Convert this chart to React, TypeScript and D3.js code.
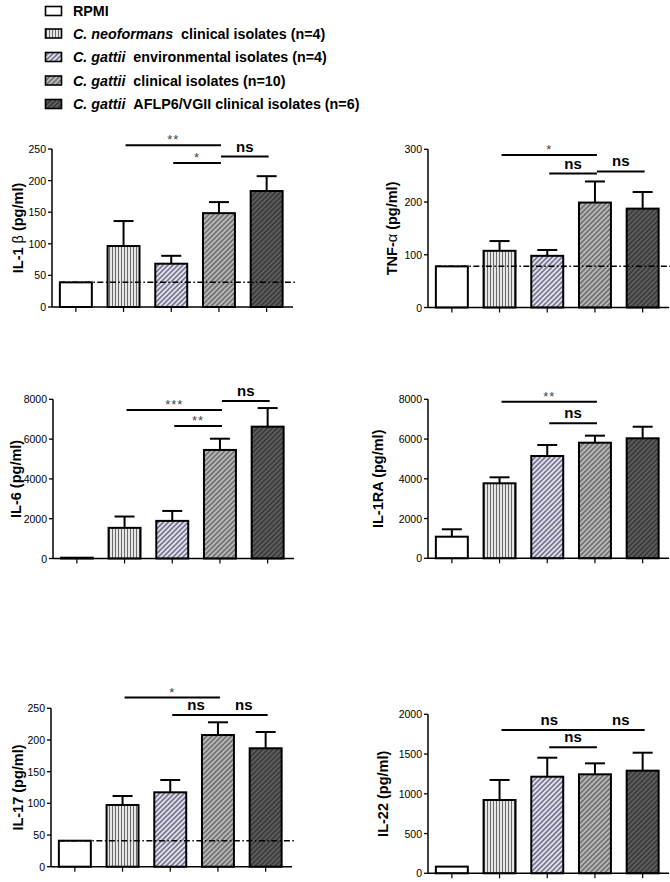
import React from "react";
import * as d3 from "d3";

// ---------- data ----------
const groups = ["RPMI", "Cn clinical", "Cg environmental", "Cg clinical", "Cg AFLP6/VGII"];
const legendItalic = ["", "C. neoformans", "C. gattii", "C. gattii", "C. gattii"];
const legendText = [
  "RPMI",
  "clinical isolates (n=4)",
  "environmental isolates (n=4)",
  "clinical isolates (n=10)",
  "AFLP6/VGII clinical isolates (n=6)",
];

const il1bMean = [39, 96.5, 68.5, 148.5, 183.5];
const il1bErr = [0, 39.5, 12.5, 17.5, 23.5];
const il1bTicks = [0, 50, 100, 150, 200, 250];
const il1bSig = [
  { a: 1, b: 3, y: 256, t: "**" },
  { a: 2, b: 3, y: 228, t: "*" },
  { a: 3, b: 4, y: 238, t: "ns" },
];

const tnfMean = [78, 107.5, 98, 199, 187.5];
const tnfErr = [0, 18.5, 11, 40, 31.5];
const tnfTicks = [0, 100, 200, 300];
const tnfSig = [
  { a: 1, b: 3, y: 289, t: "*" },
  { a: 2, b: 3, y: 254, t: "ns" },
  { a: 3, b: 4, y: 258, t: "ns" },
];

const il6Mean = [40, 1540, 1890, 5455, 6625];
const il6Err = [0, 570, 500, 565, 935];
const il6Ticks = [0, 2000, 4000, 6000, 8000];
const il6Sig = [
  { a: 1, b: 3, y: 7462, t: "***" },
  { a: 2, b: 3, y: 6658, t: "**" },
  { a: 3, b: 4, y: 7915, t: "ns" },
];

const il1raMean = [1087, 3774, 5147, 5816, 6038];
const il1raErr = [373, 301, 553, 354, 582];
const il1raTicks = [0, 2000, 4000, 6000, 8000];
const il1raSig = [
  { a: 1, b: 3, y: 7879, t: "**" },
  { a: 2, b: 3, y: 6794, t: "ns" },
];

const il17Mean = [41, 97.4, 117.4, 207.8, 186.9];
const il17Err = [0, 14.2, 19.4, 20.1, 25.7];
const il17Ticks = [0, 50, 100, 150, 200, 250];
const il17Sig = [
  { a: 1, b: 3, y: 267, t: "*" },
  { a: 2, b: 3, y: 239.4, t: "ns" },
  { a: 3, b: 4, y: 239.4, t: "ns" },
];

const il22Mean = [84, 922, 1215, 1245, 1291];
const il22Err = [0, 252, 239, 138, 226];
const il22Ticks = [0, 500, 1000, 1500, 2000];
const il22Sig = [
  { a: 1, b: 3, y: 1802, t: "ns" },
  { a: 2, b: 3, y: 1585, t: "ns" },
  { a: 3, b: 4, y: 1802, t: "ns" },
];

// label segments: [text, isGreek]
const il1bLabel: [string, boolean][] = [["IL-1 ", false], ["β", true], [" (pg/ml)", false]];
const tnfLabel: [string, boolean][] = [["TNF-", false], ["α", true], [" (pg/ml)", false]];
const il6Label: [string, boolean][] = [["IL-6 (pg/ml)", false]];
const il1raLabel: [string, boolean][] = [["IL-1RA (pg/ml)", false]];
const il17Label: [string, boolean][] = [["IL-17 (pg/ml)", false]];
const il22Label: [string, boolean][] = [["IL-22 (pg/ml)", false]];

// ---------- layout ----------
const FONT = "'Liberation Sans', Arial, Helvetica, sans-serif";
const patternIds = ["none", "p-vert", "p-env", "p-clin", "p-aflp"];

const panels = [
  { mean: il1bMean, err: il1bErr, ticks: il1bTicks, sig: il1bSig, label: il1bLabel, x0: 52, y0: 307, top: 149, labelX: 17.5, dashed: true },
  { mean: tnfMean, err: tnfErr, ticks: tnfTicks, sig: tnfSig, label: tnfLabel, x0: 428, y0: 307.5, top: 149.3, labelX: 391.5, dashed: true },
  { mean: il6Mean, err: il6Err, ticks: il6Ticks, sig: il6Sig, label: il6Label, x0: 53, y0: 558.5, top: 399.3, labelX: 15.5, dashed: false },
  { mean: il1raMean, err: il1raErr, ticks: il1raTicks, sig: il1raSig, label: il1raLabel, x0: 428, y0: 558.3, top: 399.3, labelX: 377.5, dashed: false },
  { mean: il17Mean, err: il17Err, ticks: il17Ticks, sig: il17Sig, label: il17Label, x0: 51, y0: 866.7, top: 708.3, labelX: 18, dashed: true },
  { mean: il22Mean, err: il22Err, ticks: il22Ticks, sig: il22Sig, label: il22Label, x0: 428, y0: 873.3, top: 714.3, labelX: 382.5, dashed: false },
];

function fillFor(i: number) {
  return i === 0 ? "#ffffff" : `url(#${patternIds[i]})`;
}

function Panel({ p }: { p: (typeof panels)[number] }) {
  const x = d3
    .scaleBand<string>()
    .domain(groups)
    .range([p.x0, p.x0 + 238.5])
    .paddingInner(0.33)
    .paddingOuter(0.165);
  const yMax = p.ticks[p.ticks.length - 1];
  const y = d3.scaleLinear().domain([0, yMax]).range([p.y0, p.top]);
  const bw = x.bandwidth();
  const cx = (i: number) => (x(groups[i]) as number) + bw / 2;
  const axisRight = p.x0 + 241;
  const midY = (p.y0 + p.top) / 2;

  return (
    <g>
      {groups.map((g, i) => (
        <g key={g}>
          {p.err[i] > 0 && (
            <g stroke="#000" strokeWidth={2}>
              <line x1={cx(i)} x2={cx(i)} y1={y(p.mean[i])} y2={y(p.mean[i] + p.err[i])} />
              <line x1={cx(i) - 10} x2={cx(i) + 10} y1={y(p.mean[i] + p.err[i])} y2={y(p.mean[i] + p.err[i])} />
            </g>
          )}
          <rect
            x={x(g)}
            y={y(p.mean[i])}
            width={bw}
            height={y(0) - y(p.mean[i])}
            fill={fillFor(i)}
            stroke="#000"
            strokeWidth={2}
          />
        </g>
      ))}
      {p.dashed && (
        <line
          x1={x(groups[0])}
          x2={axisRight + 2}
          y1={y(p.mean[0])}
          y2={y(p.mean[0])}
          stroke="#000"
          strokeWidth={1.5}
          strokeDasharray="6,2.5,1.5,2.5"
        />
      )}
      <line x1={p.x0} x2={p.x0} y1={p.y0} y2={p.top} stroke="#000" strokeWidth={1.5} />
      {p.ticks.map((t) => (
        <g key={t}>
          <line x1={p.x0 - 4} x2={p.x0} y1={y(t)} y2={y(t)} stroke="#000" strokeWidth={1.3} />
          <text
            x={p.x0 - 6}
            y={y(t)}
            textAnchor="end"
            dominantBaseline="central"
            fontSize={10.5}
            fontFamily={FONT}
            fill="#000"
          >
            {t}
          </text>
        </g>
      ))}
      <line x1={p.x0} x2={axisRight} y1={p.y0} y2={p.y0} stroke="#000" strokeWidth={1.5} />
      {groups.map((g, i) => (
        <line key={g} x1={cx(i)} x2={cx(i)} y1={p.y0} y2={p.y0 + 5} stroke="#000" strokeWidth={1.2} />
      ))}
      <text
        transform={`translate(${p.labelX},${midY}) rotate(-90)`}
        textAnchor="middle"
        dominantBaseline="central"
        fontSize={14.5}
        fontWeight="bold"
        fontFamily={FONT}
        fill="#000"
      >
        {p.label.map(([s, greek], k) => (
          <tspan key={k} fontWeight={greek ? "normal" : "bold"}>
            {s}
          </tspan>
        ))}
      </text>
      {p.sig.map((s, k) => {
        const x1 = cx(s.a) + 2;
        const x2 = cx(s.b) + 2;
        const yy = y(s.y);
        const isNs = s.t === "ns";
        return (
          <g key={k}>
            <line x1={x1} x2={x2} y1={yy} y2={yy} stroke="#000" strokeWidth={2} />
            <text
              x={(x1 + x2) / 2}
              y={isNs ? yy - 5 : yy - 1}
              textAnchor="middle"
              fontSize={isNs ? 15 : 13}
              fontWeight={isNs ? "bold" : "normal"}
              fontFamily={FONT}
              fill={isNs ? "#000" : "#444"}
              letterSpacing={isNs ? 0 : 1}
            >
              {s.t}
            </text>
          </g>
        );
      })}
    </g>
  );
}

export default function App() {
  const legendY = [11, 33.5, 57, 80.5, 104];
  return (
    <svg
      width={670}
      height={882}
      style={{ position: "absolute", left: 0, top: 0, background: "#fff" }}
    >
      <defs>
        <pattern id="p-vert" patternUnits="userSpaceOnUse" width={3} height={3}>
          <rect width={3} height={3} fill="#e6e6e6" />
          <line x1={1.5} x2={1.5} y1={0} y2={3} stroke="#6a6a6a" strokeWidth={1} />
        </pattern>
        <pattern id="p-env" patternUnits="userSpaceOnUse" width={3.5} height={3.5} patternTransform="rotate(45)">
          <rect width={3.5} height={3.5} fill="#e2e2ef" />
          <line x1={1.75} x2={1.75} y1={0} y2={3.5} stroke="#3a3a58" strokeWidth={1.1} />
        </pattern>
        <pattern id="p-clin" patternUnits="userSpaceOnUse" width={3.5} height={3.5} patternTransform="rotate(45)">
          <rect width={3.5} height={3.5} fill="#b8b8b8" />
          <line x1={1.75} x2={1.75} y1={0} y2={3.5} stroke="#4a4a4a" strokeWidth={1.1} />
        </pattern>
        <pattern id="p-aflp" patternUnits="userSpaceOnUse" width={3.5} height={3.5} patternTransform="rotate(45)">
          <rect width={3.5} height={3.5} fill="#5e5e5e" />
          <line x1={1.75} x2={1.75} y1={0} y2={3.5} stroke="#262626" strokeWidth={1.1} />
        </pattern>
      </defs>
      {groups.map((g, i) => (
        <g key={g}>
          <rect x={45.5} y={legendY[i] - 4.5} width={16} height={9} fill={fillFor(i)} stroke="#000" strokeWidth={1.6} />
          <text
            x={73}
            y={legendY[i]}
            dominantBaseline="central"
            fontSize={14.3}
            fontWeight="bold"
            fontFamily={FONT}
            fill="#000"
          >
            {legendItalic[i] && <tspan fontStyle="italic">{legendItalic[i]}</tspan>}
            {legendItalic[i] ? "\u00a0\u00a0" + legendText[i] : legendText[i]}
          </text>
        </g>
      ))}
      {panels.map((p, i) => (
        <Panel key={i} p={p} />
      ))}
    </svg>
  );
}
